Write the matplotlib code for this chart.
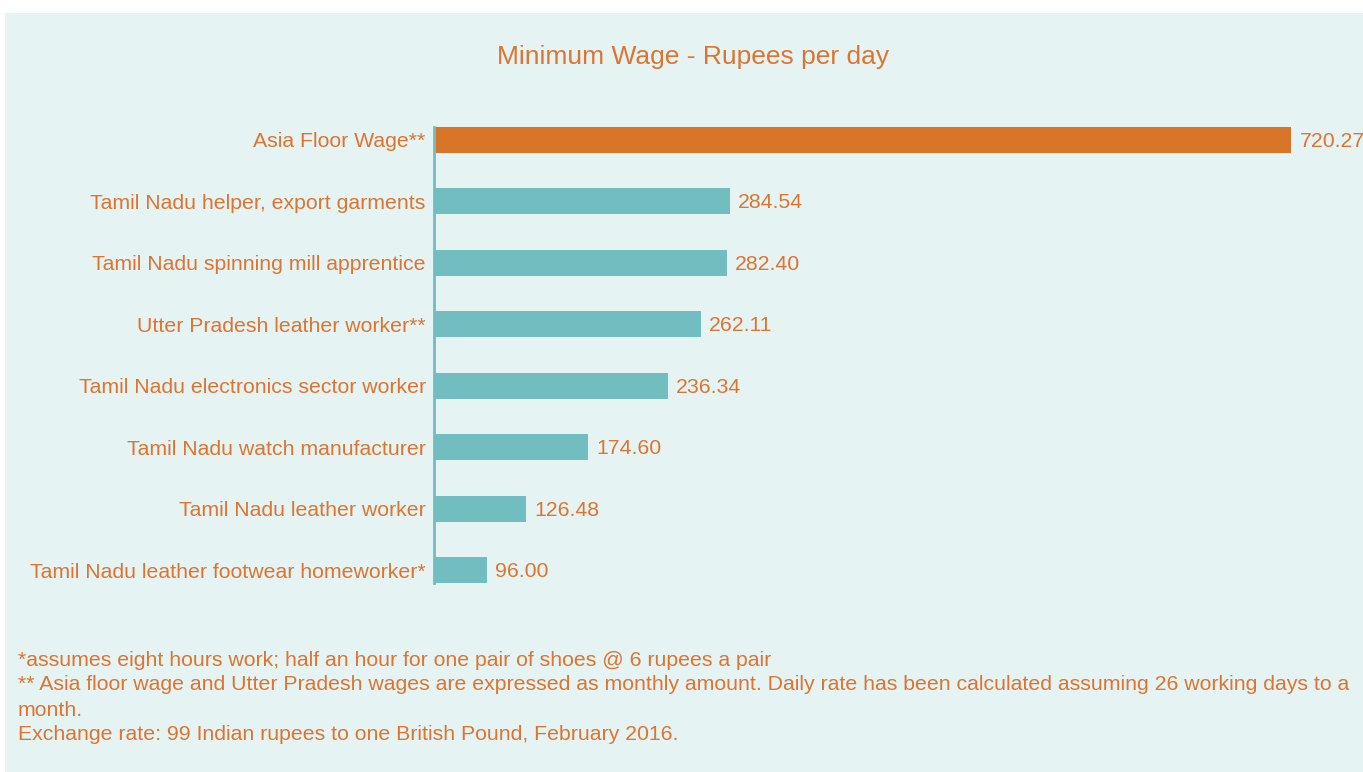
import matplotlib.pyplot as plt
from matplotlib.patches import Rectangle

plt.rcParams['font.family'] = ['Liberation Sans', 'DejaVu Sans']

categories = [
    "Asia Floor Wage**",
    "Tamil Nadu helper, export garments",
    "Tamil Nadu spinning mill apprentice",
    "Utter Pradesh leather worker**",
    "Tamil Nadu electronics sector worker",
    "Tamil Nadu watch manufacturer",
    "Tamil Nadu leather worker",
    "Tamil Nadu leather footwear homeworker*",
]
wages = [720.27, 284.54, 282.40, 262.11, 236.34, 174.60, 126.48, 96.00]
highlight = [True, False, False, False, False, False, False, False]

title = "Minimum Wage - Rupees per day"
notes = [
    "*assumes eight hours work; half an hour for one pair of shoes @ 6 rupees a pair",
    "** Asia floor wage and Utter Pradesh wages are expressed as monthly amount. "
    "Daily rate has been calculated assuming 26 working days to a",
    "month.",
    "Exchange rate: 99 Indian rupees to one British Pound, February 2016.",
]

orange = "#d97529"
teal = "#71bdc0"
panel = "#e6f3f3"
text_col = "#dc7531"

W, H = 1363, 772
fig = plt.figure(figsize=(W / 100, H / 100), dpi=100)
fig.patch.set_facecolor("white")
fig.patches.append(Rectangle((5 / W, 0), 1 - 5 / W, 1 - 13 / H,
                             transform=fig.transFigure, facecolor=panel,
                             edgecolor="none", zorder=-10))

# axes spans px 434..1363 horizontally, 127..583 vertically
ax = fig.add_axes([434 / W, 1 - 583 / H, (W - 434) / W, (583 - 127) / H])
ax.set_facecolor("none")
ax.set_zorder(5)

n = len(categories)
ypos = [n - 1 - i for i in range(n)]
colors = [orange if h else teal for h in highlight]
ax.barh(ypos, wages, height=0.42, color=colors, zorder=2)

ax.set_xlim(55, 776)
ax.set_ylim(-0.21, n - 1 + 0.21)

for y, v in zip(ypos, wages):
    ax.annotate(f"{v:.2f}", xy=(v, y), xytext=(6, -1), textcoords="offset points",
                ha="left", va="center", fontsize=15.3, color=text_col,
                annotation_clip=False)

ax.set_yticks(ypos)
ax.set_yticklabels(categories, fontsize=15.3, color=text_col)
ax.tick_params(axis="y", length=0, pad=6)
ax.set_xticks([])
for side in ["top", "right", "bottom"]:
    ax.spines[side].set_visible(False)
ax.spines["left"].set_color(teal)
ax.spines["left"].set_linewidth(2)

fig.text(693 / W, 1 - 57 / H, title, ha="center", va="center",
         fontsize=19, color=text_col)

for i, line in enumerate(notes):
    fig.text(18 / W, 1 - (660 + 25 * i) / H, line, ha="left", va="center",
             fontsize=15.3, color=text_col)

fig.savefig("out.png", dpi=100)
